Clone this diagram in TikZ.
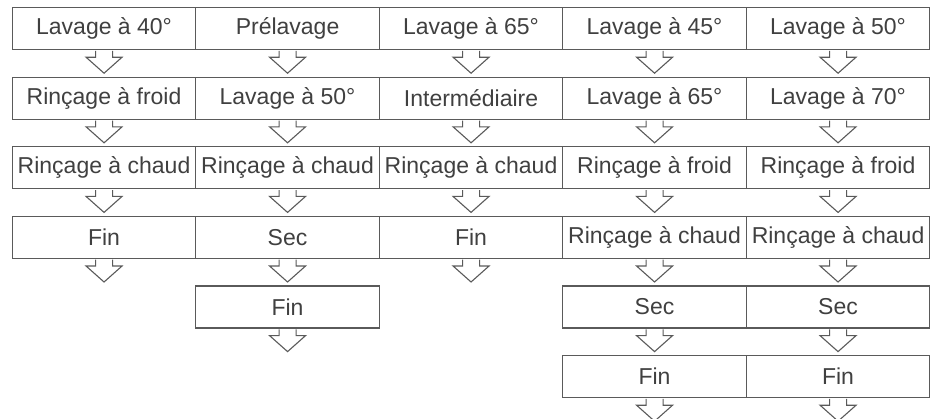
\documentclass[tikz,border=0pt]{standalone}
\usepackage{fontspec}
\setmainfont{Liberation Sans}
\definecolor{txt}{HTML}{404040}
\definecolor{ln}{HTML}{5A5A5A}
\begin{document}
\begin{tikzpicture}[x=1pt,y=-1pt,
  stepbox/.style={draw=ln, line width=1.2pt, fill=white, minimum width=183.5pt, minimum height=42pt,
    inner sep=0pt, text=txt, font=\fontsize{23}{24}\selectfont, anchor=north west},
  arr/.style={draw=ln, line width=1.1pt, fill=white}]
\useasboundingbox (0,0) rectangle (933,418);
\clip (0,0) rectangle (933,418);
% column 1
\node[stepbox] (a1) at (11.7,7) {Lavage à 40°};
\node[stepbox] (a2) at (11.7,76.6) {Rinçage à froid};
\node[stepbox] (a3) at (11.7,146.2) {Rinçage à chaud};
\node[stepbox] (a4) at (11.7,215.8) {Fin};
% column 2
\node[stepbox] (b1) at (195.2,7) {Prélavage};
\node[stepbox] (b2) at (195.2,76.6) {Lavage à 50°};
\node[stepbox] (b3) at (195.2,146.2) {Rinçage à chaud};
\node[stepbox] (b4) at (195.2,215.8) {Sec};
\node[stepbox] (b5) at (195.2,285.4) {Fin};
% column 3
\node[stepbox] (c1) at (378.7,7) {Lavage à 65°};
\node[stepbox] (c2) at (378.7,76.6) {Intermédiaire};
\node[stepbox] (c3) at (378.7,146.2) {Rinçage à chaud};
\node[stepbox] (c4) at (378.7,215.8) {Fin};
% column 4
\node[stepbox] (d1) at (562.2,7) {Lavage à 45°};
\node[stepbox] (d2) at (562.2,76.6) {Lavage à 65°};
\node[stepbox] (d3) at (562.2,146.2) {Rinçage à froid};
\node[stepbox] (d4) at (562.2,215.8) {Rinçage à chaud};
\node[stepbox] (d5) at (562.2,285.4) {Sec};
\node[stepbox] (d6) at (562.2,355) {Fin};
% column 5
\node[stepbox] (e1) at (745.7,7) {Lavage à 50°};
\node[stepbox] (e2) at (745.7,76.6) {Lavage à 70°};
\node[stepbox] (e3) at (745.7,146.2) {Rinçage à froid};
\node[stepbox] (e4) at (745.7,215.8) {Rinçage à chaud};
\node[stepbox] (e5) at (745.7,285.4) {Sec};
\node[stepbox] (e6) at (745.7,355) {Fin};
% block arrows
\foreach \n in {a1,a2,a3,a4,b1,b2,b3,b4,b5,c1,c2,c3,c4,d1,d2,d3,d4,d5,d6,e1,e2,e3,e4,e5,e6}{
  \draw[arr, shift={(\n.south)}] (-8.5,0.7) -- (-8.5,7) -- (-18,7) -- (0,23) -- (18,7) -- (8.5,7) -- (8.5,0.7);
}
\end{tikzpicture}
\end{document}
